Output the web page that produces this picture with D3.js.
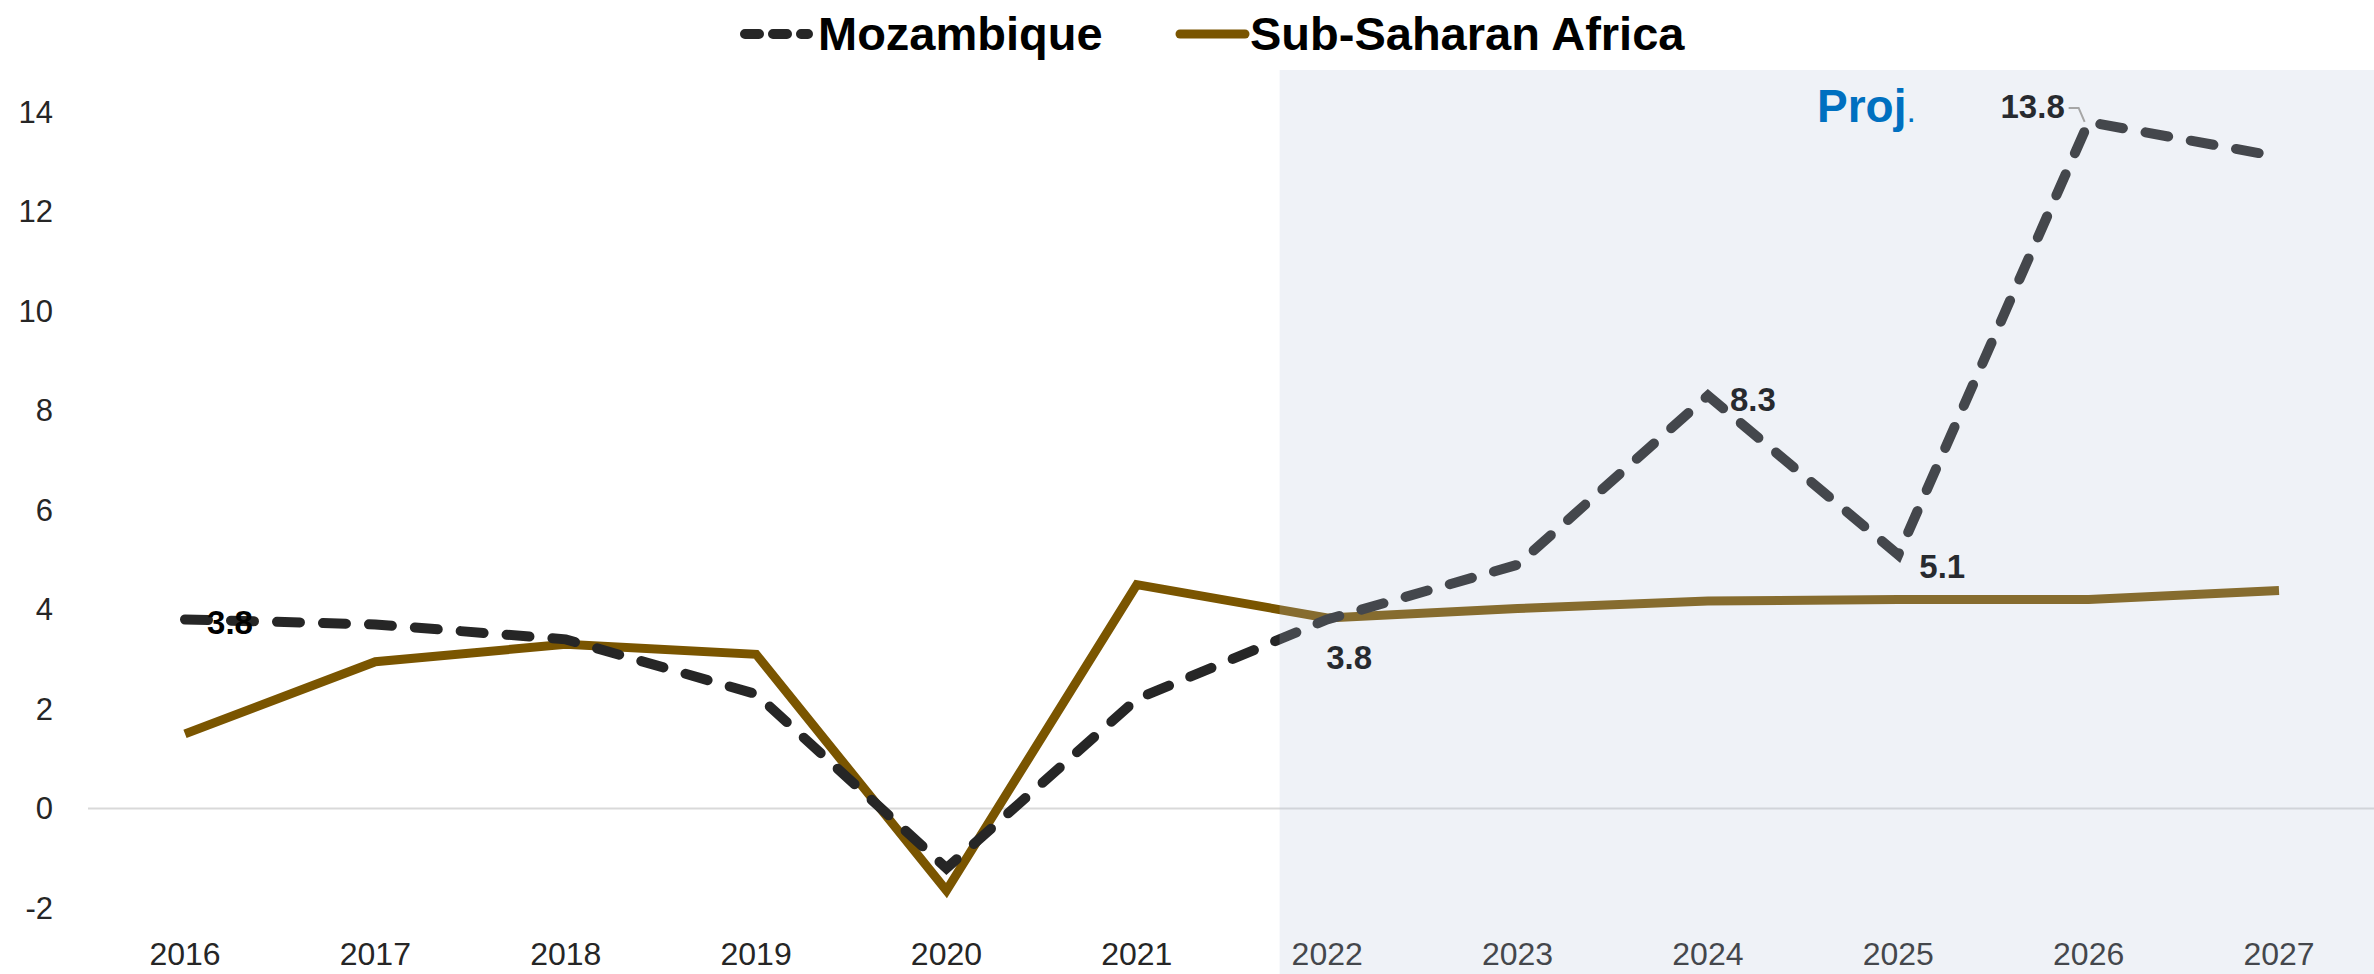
<!DOCTYPE html>
<html><head><meta charset="utf-8">
<script src="https://cdn.jsdelivr.net/npm/d3@7/dist/d3.min.js"></script>
<style>
body{margin:0;background:#fff;}
svg{display:block;}
text{font-family:"Liberation Sans",Arial,sans-serif;}
</style></head>
<body><svg id="c" width="2374" height="974"></svg>
<script>
const years = ["2016","2017","2018","2019","2020","2021","2022","2023","2024","2025","2026","2027"];
const mozambique = [3.8,3.7,3.4,2.3,-1.2,2.2,3.8,4.9,8.3,5.1,13.8,13.1];
const ssa = [1.5,2.95,3.3,3.1,-1.65,4.5,3.83,4.02,4.17,4.2,4.2,4.38];
const yTicks = [-2,0,2,4,6,8,10,12,14];
const seriesNames = ["Mozambique","Sub-Saharan Africa"];

const svg = d3.select("#c");
const x = d3.scalePoint().domain(years).range([185,2279]);
const y = d3.scaleLinear().domain([-2,14]).range([908,112]);

// zero line
svg.append("line").attr("x1",88).attr("x2",2374).attr("y1",y(0)).attr("y2",y(0))
  .attr("stroke","#d9d9d9").attr("stroke-width",2);

// y tick labels
svg.append("g").selectAll("text").data(yTicks).join("text")
  .attr("x",53).attr("y",d=>y(d)).attr("dy","0.35em").attr("text-anchor","end")
  .attr("font-size",31).attr("fill","#262626").text(d=>d);

// x tick labels
svg.append("g").selectAll("text").data(years).join("text")
  .attr("x",d=>x(d)).attr("y",954).attr("dy","0.35em").attr("text-anchor","middle")
  .attr("font-size",32).attr("fill","#262626").text(d=>d);

const line = d3.line().x((d,i)=>x(years[i])).y(d=>y(d));

svg.append("path").datum(ssa).attr("d",line).attr("fill","none")
  .attr("stroke","#7a5500").attr("stroke-width",9).attr("stroke-linejoin","miter");

svg.append("path").datum(mozambique).attr("d",line).attr("fill","none")
  .attr("stroke","#262626").attr("stroke-width",10).attr("stroke-linecap","round")
  .attr("stroke-dasharray","23 23");

// data labels
const lab = svg.append("g").attr("font-size",33).attr("font-weight","bold").attr("fill","#000");
function addLab(i, dx, dy){
  lab.append("text").attr("x",x(years[i])+dx).attr("y",y(mozambique[i])+dy)
    .attr("dy","0.35em").attr("text-anchor","middle").text(mozambique[i].toFixed(1));
}
addLab(0,45,3);
addLab(6,22,38);
addLab(8,45,4);
addLab(9,44,12);
addLab(10,-56,-16);

// projection shading overlay
const shadeX = x("2021") + 0.75*x.step();
svg.append("rect").attr("x",shadeX).attr("y",70).attr("width",2374-shadeX).attr("height",974-70)
  .attr("fill","rgb(181,195,218)").attr("fill-opacity",0.217);

// leader line for 13.8
const px = x("2026"), py = y(13.8);
svg.append("path").attr("d",`M${px-20},${py-14} L${px-10},${py-14} L${px-4},${py}`)
  .attr("fill","none").attr("stroke","#a6a6a6").attr("stroke-width",2);

// Proj.
const pj = svg.append("text").attr("x",1817).attr("y",122).attr("font-size",46).attr("fill","#0070c0");
pj.append("tspan").attr("font-weight","bold").text("Proj");
pj.append("tspan").attr("font-size",34).text(".");

// legend
const lg = svg.append("g");
lg.append("line").attr("x1",745).attr("x2",808).attr("y1",34).attr("y2",34)
  .attr("stroke","#262626").attr("stroke-width",10).attr("stroke-linecap","round").attr("stroke-dasharray","14 14");
lg.append("text").attr("x",818).attr("y",34).attr("dy","0.35em").attr("font-size",47).attr("font-weight","bold")
  .attr("fill","#000").text(seriesNames[0]);
lg.append("line").attr("x1",1180).attr("x2",1245).attr("y1",34).attr("y2",34)
  .attr("stroke","#7a5500").attr("stroke-width",9).attr("stroke-linecap","round");
lg.append("text").attr("x",1250).attr("y",34).attr("dy","0.35em").attr("font-size",47).attr("font-weight","bold")
  .attr("fill","#000").text(seriesNames[1]);
</script></body></html>
